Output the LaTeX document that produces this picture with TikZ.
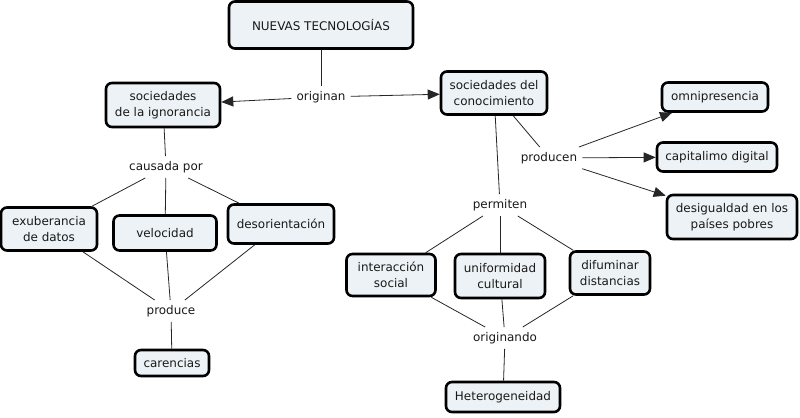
\documentclass[tikz,border=0pt]{standalone}
\usepackage{fontspec}
\setmainfont{DejaVu Sans}
\usetikzlibrary{arrows.meta}
\definecolor{boxfill}{RGB}{236,242,245}
\definecolor{txt}{RGB}{25,25,25}
\begin{document}
\begin{tikzpicture}[x=1bp,y=-1bp,
  concept/.style={draw=black,line width=2.6bp,rounded corners=6bp,fill=boxfill,
    align=center,inner sep=2bp,font=\fontsize{12}{15.5}\selectfont,text=txt},
  linkword/.style={fill=white,inner sep=5bp,font=\fontsize{12}{14}\selectfont,text=txt},
  conn/.style={draw=black!85,line width=0.8bp},
  arr/.style={conn,-{Triangle[length=12bp,width=10bp]}}]
\useasboundingbox (0,0) rectangle (800,417);
% concepts
\node[concept,minimum width=184bp,minimum height=47bp] (nt) at (321,25) {NUEVAS TECNOLOGÍAS};
\node[concept,minimum width=114bp,minimum height=44bp] (ign) at (163,105) {sociedades\\de la ignorancia};
\node[concept,minimum width=106bp,minimum height=43bp] (con) at (494,93) {sociedades del\\conocimiento};
\node[concept,minimum width=96bp,minimum height=43bp] (exu) at (49,229) {exuberancia\\de datos};
\node[concept,minimum width=103bp,minimum height=35bp] (vel) at (165,233) {velocidad};
\node[concept,minimum width=106bp,minimum height=39bp] (des) at (281,224) {desorientación};
\node[concept,minimum width=74bp,minimum height=26bp] (car) at (172,363) {carencias};
\node[concept,minimum width=106bp,minimum height=29bp] (omn) at (715,97) {omnipresencia};
\node[concept,minimum width=120bp,minimum height=29bp] (cap) at (717,157) {capitalimo digital};
\node[concept,minimum width=130bp,minimum height=44bp] (desi) at (732,217) {desigualdad en los\\países pobres};
\node[concept,minimum width=89bp,minimum height=42bp] (inter) at (391,275) {interacción\\social};
\node[concept,minimum width=90bp,minimum height=44bp] (uni) at (500,276) {uniformidad\\cultural};
\node[concept,minimum width=80bp,minimum height=43bp] (dif) at (610,273) {difuminar\\distancias};
\node[concept,minimum width=114bp,minimum height=30bp] (het) at (503,397) {Heterogeneidad};
% linking words
\node[linkword] (orig) at (321,97) {originan};
\node[linkword] (caus) at (166,167) {causada por};
\node[linkword] (prod) at (171,311) {produce};
\node[linkword] (prodn) at (549,158) {producen};
\node[linkword] (perm) at (500,205) {permiten};
\node[linkword] (origd) at (505,338) {originando};
% connectors
\draw[conn] (nt) -- (orig);
\draw[arr] (orig) -- (ign);
\draw[arr] (orig) -- (con);
\draw[conn] (ign) -- (caus);
\draw[conn] (caus) -- (exu);
\draw[conn] (caus) -- (vel);
\draw[conn] (caus) -- (des);
\draw[conn] (exu) -- (prod);
\draw[conn] (vel) -- (prod);
\draw[conn] (des) -- (prod);
\draw[conn] (prod) -- (car);
\draw[conn] (con) -- (prodn);
\draw[arr] (prodn) -- (omn);
\draw[arr] (prodn) -- (cap);
\draw[arr] (prodn) -- (desi);
\draw[conn] (con) -- (perm);
\draw[conn] (perm) -- (inter);
\draw[conn] (perm) -- (uni);
\draw[conn] (perm) -- (dif);
\draw[conn] (inter) -- (origd);
\draw[conn] (uni) -- (origd);
\draw[conn] (dif) -- (origd);
\draw[conn] (origd) -- (het);
\end{tikzpicture}
\end{document}
